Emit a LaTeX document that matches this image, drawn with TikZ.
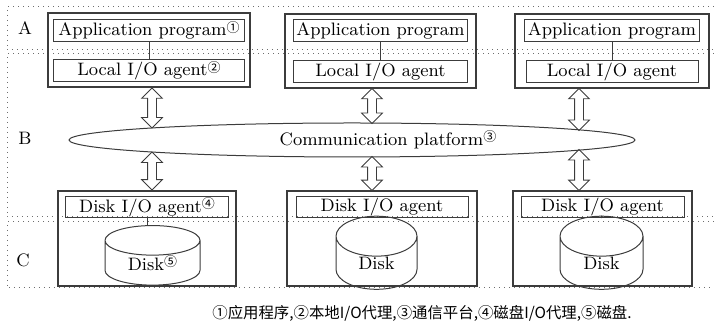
\documentclass[tikz,border=0pt]{standalone}
\usepackage{fontspec}
\usepackage{tikz}
\usetikzlibrary{shapes.geometric,shapes.arrows,positioning}
\newfontfamily\cjk{Noto Sans CJK SC}
\definecolor{linegray}{RGB}{60,60,60}
\definecolor{dotgray}{RGB}{110,110,110}
\newcommand{\cnum}[1]{\raisebox{0.45ex}{\cjk\fontsize{6.5}{7}\selectfont #1}}

\begin{document}
\begin{tikzpicture}[x=0.5pt, y=-0.5pt, font=\fontsize{9}{10}\selectfont]
    % Define styles
    \tikzset{
      tier/.style={draw=dotgray, dotted, line width=0.5pt},
      host/.style={rectangle, draw=linegray, line width=0.9pt, inner sep=0pt},
      unit/.style={rectangle, draw=linegray, line width=0.5pt, inner sep=0pt, minimum height=11pt},
      disk/.style={cylinder, shape border rotate=90, draw=linegray, line width=0.5pt, aspect=1.1, inner sep=0pt, minimum height=19pt},
      net/.style={ellipse, draw=linegray, line width=0.5pt, inner sep=0pt, minimum width=283pt, minimum height=17pt},
      link/.style={double arrow, draw=linegray, line width=0.4pt, inner sep=2pt, double arrow head extend=3pt, sloped, allow upside down},
      wire/.style={draw=linegray, line width=0.4pt}
    }
    \useasboundingbox (0,0) rectangle (714,330);

    % Tiers
    \draw [tier] (714,7) -| (7,50) -- (714,50);
    \draw [tier] (714,54) -| (7,217) -- (714,217);
    \draw [tier] (714,222) -| (7,288) -- (714,288);
    \node (tA) at (25,28) {A};
    \node (tB) at (25,138) {B};
    \node (tC) at (23,260) {C};

    % Hosts
    \node [host, minimum width=101pt, minimum height=37pt] (host1) at (149,50) {};
    \node [host, minimum width=95.5pt, minimum height=37pt] (host2) at (380.5,51) {};
    \node [host, minimum width=97pt, minimum height=37pt] (host3) at (612,51) {};
    \node [unit, minimum width=95.5pt, below=3.5pt of host1.north] (app1) {Application program\cnum{①}};
    \node [unit, minimum width=95.5pt, below=8.5pt of app1] (loc1) {Local I/O agent\cnum{②}};
    \node [unit, minimum width=87pt, below=3pt of host2.north] (app2) {Application program};
    \node [unit, minimum width=87pt, below=9pt of app2] (loc2) {Local I/O agent};
    \node [unit, minimum width=87.5pt, below=3pt of host3.north] (app3) {Application program};
    \node [unit, minimum width=86pt, below=9pt of app3] (loc3) {Local I/O agent};

    % Platform
    \node [net] (plat) at (352,140) {\hspace*{36pt}Communication platform\cnum{③}};
    \coordinate (n1t) at (152,128);
    \coordinate (n2t) at (372,123);
    \coordinate (n3t) at (579,130);
    \coordinate (n1b) at (152,152);
    \coordinate (n2b) at (372,157);
    \coordinate (n3b) at (579,150);

    % Storage
    \node [host, minimum width=89pt, minimum height=47.5pt] (store1) at (147,238.5) {};
    \node [host, minimum width=95pt, minimum height=47.5pt] (store2) at (382,238.5) {};
    \node [host, minimum width=89.5pt, minimum height=47.5pt] (store3) at (602.5,238.5) {};
    \node [unit, minimum width=81.5pt, minimum height=10.5pt, below=3pt of store1.north] (dag1) {Disk I/O agent\cnum{④}};
    \node [unit, minimum width=86pt, minimum height=10.5pt, below=3pt of store2.north] (dag2) {Disk I/O agent};
    \node [unit, minimum width=81.5pt, minimum height=10.5pt, below=3pt of store3.north] (dag3) {Disk I/O agent};
    \node [disk, aspect=0.6, minimum width=47.5pt] (dsk1) at (152.5,263) {Disk\cnum{⑤}};
    \node [disk, minimum width=40.5pt] (dsk2) at (376.5,263) {Disk};
    \node [disk, minimum width=41.5pt] (dsk3) at (601.5,263) {Disk};

    % Wires
    \draw [wire] (app1) -- (loc1);
    \draw [wire] (app2) -- (loc2);
    \draw [wire] (app3) -- (loc3);
    \draw [wire] (dag1.south) -- (dag1.south |- dsk1.north);
    \draw [wire] (dag2.south) -- (dag2.south |- dsk2.north);
    \draw [wire] (dag3.south -| dsk3) -- (dsk3.north);

    % Links
    \path (host1.south -| n1t) -- node [link, minimum height=20pt] (l1) {} (n1t);
    \path (host2.south -| n2t) -- node [link, minimum height=17.5pt] (l2) {} (n2t);
    \path (host3.south -| n3t) -- node [link, minimum height=21pt] (l3) {} (n3t);
    \path (n1b) -- node [link, minimum height=19pt] (l4) {} (store1.north -| n1b);
    \path (n2b) -- node [link, minimum height=17pt] (l5) {} (store2.north -| n2b);
    \path (n3b) -- node [link, minimum height=20.5pt] (l6) {} (store3.north -| n3b);

    % Note
    \node (note) at (422,313) {\cjk\fontsize{7.7}{9}\selectfont ①应用程序,②本地I/O代理,③通信平台,④磁盘I/O代理,⑤磁盘.};
\end{tikzpicture}
\end{document}
